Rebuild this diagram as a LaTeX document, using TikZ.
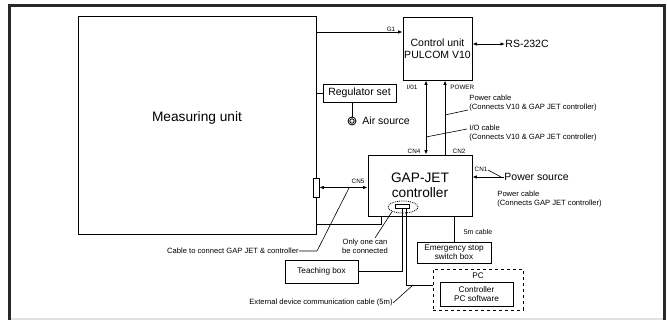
\documentclass[tikz,border=0pt]{standalone}
\usepackage{fontspec}
\setmainfont{Liberation Sans}
\usetikzlibrary{arrows.meta,shapes.geometric}

\begin{document}
\begin{tikzpicture}[x=1pt,y=-1pt,
	box/.style={draw,line width=0.9pt,inner sep=0pt,align=center},
	big/.style={font=\fontsize{13.7}{15.5}\selectfont},
	mid/.style={font=\fontsize{10.5}{11.5}\selectfont},
	lbl/.style={font=\fontsize{8.2}{9.4}\selectfont},
	small/.style={font=\fontsize{7.6}{8.6}\selectfont,inner sep=0pt,align=left},
	tiny/.style={font=\fontsize{6.3}{7}\selectfont,inner sep=0pt},
	arr/.style={-{Latex[length=4.5pt,width=3.6pt]}},
	dbl/.style={{Latex[length=4.5pt,width=3.6pt]}-{Latex[length=4.5pt,width=3.6pt]}},
	line width=0.85pt]
	\definecolor{framegray}{RGB}{40,40,40}
	\definecolor{bottomgray}{RGB}{225,225,225}

	\useasboundingbox (0,0) rectangle (668,320);
	\draw[line width=3pt,framegray] (9.5,321) -- (9.5,6) -- (664.5,6) -- (664.5,321);
	\draw[bottomgray,line width=1.2pt] (11,319) -- (663,319);

	% units
	\node[box,minimum width=238pt,minimum height=218pt] (meas) at (197,125) {};
	\node[big] (meastxt) at ([yshift=7pt]meas.center) {Measuring unit};
	\node[box,mid,minimum width=69pt,minimum height=63pt] (ctrl) at (437.5,48.5) {Control unit\\PULCOM V10};
	\node[box,big,minimum width=104pt,minimum height=61pt] (gj) at (420,185.5) {GAP-JET\\controller};
	\node[box,mid,minimum width=73pt,minimum height=18pt] (reg) at (359.5,93) {Regulator set};
	\node[box,lbl,minimum width=73pt,minimum height=23pt] (teach) at (321.5,271.5) {Teaching box};
	\node[box,lbl,minimum width=74pt,minimum height=21pt] (estop) at (454,252.5) {Emergency stop\\switch box};
	\node[box,dashed,minimum width=90pt,minimum height=41pt] (pcbox) at (478,289.5) {};
	\node[lbl] (pctxt) at (478,276) {PC};
	\node[box,lbl,minimum width=73pt,minimum height=24pt] (pcsw) at (476.5,294) {Controller\\PC software};

	% connectors
	\node[draw,fill=white,line width=0.9pt,minimum width=6pt,minimum height=19pt,inner sep=0pt] (jackm) at (316,187.5) {};
	\node[draw,fill=white,line width=1pt,minimum width=14pt,minimum height=4pt,inner sep=0pt] (jack) at (402.5,206.5) {};
	\node[draw,ellipse,densely dotted,minimum width=30pt,minimum height=12pt,inner sep=0pt] (port) at (403,207) {};
	\node[draw,circle,minimum size=8pt,inner sep=0pt] (air) at (352,121) {};
	\draw (air.center) circle (2.2pt);

	% outer labels
	\node[mid,anchor=west,inner sep=0pt] (rs) at (505,44) {RS-232C};
	\node[mid,anchor=west,inner sep=0pt] (psrc) at (504,177) {Power source};
	\node[mid,anchor=west,inner sep=0pt] (airtxt) at (362,121) {Air source};
	\node[tiny] (g1) at (391,29) {G1};
	\node[tiny] (io1) at (412,87) {I/01};
	\node[tiny,anchor=west] (pw) at (450,87) {POWER};
	\node[tiny] (cn4) at (414,151) {CN4};
	\node[tiny] (cn2) at (459,151) {CN2};
	\node[tiny] (cn1) at (481,169) {CN1};
	\node[tiny] (cn5) at (358,181) {CN5};
	\node[tiny,font=\fontsize{7}{8}\selectfont] (fivem) at (478,232) {5m cable};
	\node[small,anchor=north west] (pwv) at (469,95) {Power cable\\(Connects V10 \& GAP JET controller)};
	\node[small,anchor=north west] (iov) at (469,125) {I/O cable\\(Connects V10 \& GAP JET controller)};
	\node[small,anchor=north west] (pwg) at (497,191) {Power cable\\(Connects GAP JET controller)};
	\node[small,anchor=east] (cab) at (299,251) {Cable to connect GAP JET \& controller};
	\node[small,align=center] (one) at (365,246) {Only one can\\be connected};
	\node[small,anchor=east] (ext) at (393,303) {External device communication cable (5m)};

	% cables
	\draw[arr] (meas.east |- 0,32) -- (ctrl.west |- 0,32);
	\draw[dbl] (ctrl.east |- rs.west) -- (rs.west);
	\draw (meas.east |- reg.west) -- (reg.west);
	\draw (air |- reg.south) -- (air.north);
	\draw[dbl] (ctrl.south -| 426,0) -- (gj.north -| 426,0);
	\draw[arr] (gj.north -| 445,0) -- (ctrl.south -| 445,0);
	\draw[arr] (psrc.west) -- (gj.east |- psrc.west);
	\draw[dbl] (jackm.east) -- (gj.west |- jackm.east);
	\draw (meas.east |- 0,224) -| ([xshift=14pt]gj.south west);
	\draw (gj.south -| estop.north) -- (estop.north);
	\draw ([xshift=-0.5pt]jack.south) |- (teach.east);
	\draw ([xshift=3.5pt]jack.south) |- (pcbox.west |- 0,285);

	% leaders
	\draw[line width=0.6pt] (445,115) -- (468,110);
	\draw[line width=0.6pt] (426,137) -- (467,129);
	\draw[line width=0.6pt] (488,170) -- (501,177);
	\draw[line width=0.6pt] (cab.east) -- (317,251) -- (349,188);
	\draw[line width=0.6pt] (375,238) -- (port.south west);
	\draw[line width=0.6pt] (ext.east) -- (413,285);
\end{tikzpicture}
\end{document}
